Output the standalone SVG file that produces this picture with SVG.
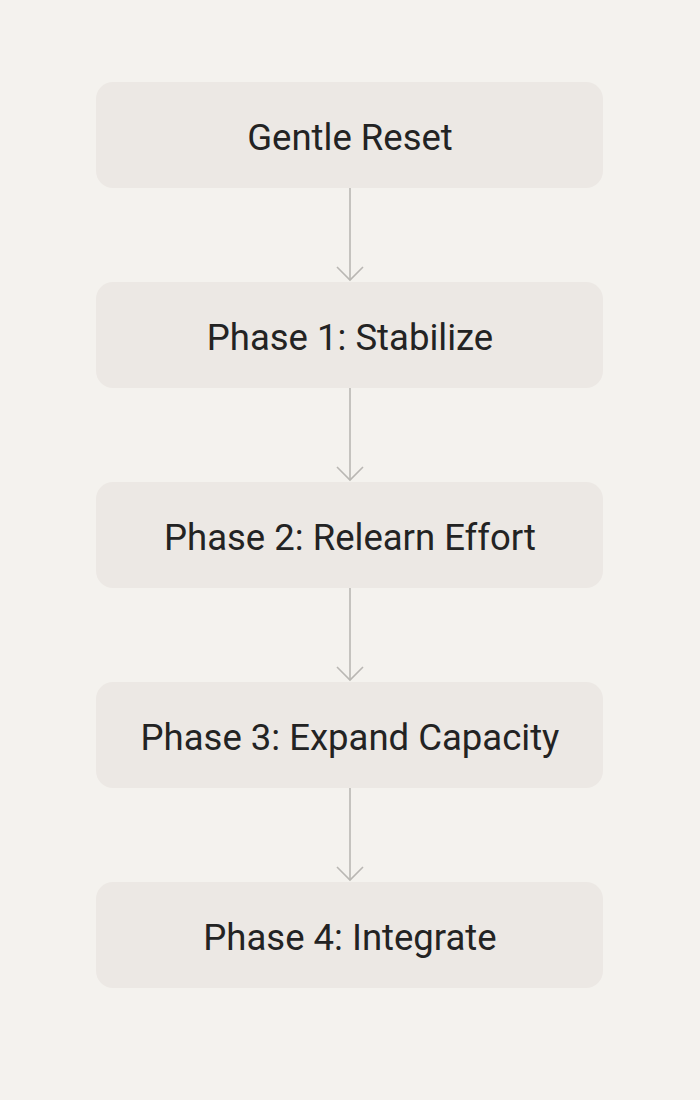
<svg xmlns="http://www.w3.org/2000/svg" width="700" height="1100" viewBox="0 0 700 1100">
  <style>
    .box { fill: #ece8e4; }
    .label { font-family: Roboto, "Liberation Sans", sans-serif; font-size: 36.5px; fill: #232323; text-anchor: middle; }
    .conn { stroke: #b9b7b3; stroke-width: 1.6; fill: none; }
  </style>
  <rect width="700" height="1100" fill="#f4f2ee"/>
  <g id="connectors">
    <line class="conn" x1="350" y1="188" x2="350" y2="280"/>
    <path class="conn" d="M337 267 L350 280 L363 267"/>
    <line class="conn" x1="350" y1="388" x2="350" y2="480"/>
    <path class="conn" d="M337 467 L350 480 L363 467"/>
    <line class="conn" x1="350" y1="588" x2="350" y2="680"/>
    <path class="conn" d="M337 667 L350 680 L363 667"/>
    <line class="conn" x1="350" y1="788" x2="350" y2="880"/>
    <path class="conn" d="M337 867 L350 880 L363 867"/>
  </g>
  <g id="node-gentle-reset">
    <rect class="box" x="96" y="82" width="507" height="106" rx="17"/>
    <text class="label" x="350" y="150">Gentle Reset</text>
  </g>
  <g id="node-phase1">
    <rect class="box" x="96" y="282" width="507" height="106" rx="17"/>
    <text class="label" x="350" y="350">Phase 1: Stabilize</text>
  </g>
  <g id="node-phase2">
    <rect class="box" x="96" y="482" width="507" height="106" rx="17"/>
    <text class="label" x="350" y="550">Phase 2: Relearn Effort</text>
  </g>
  <g id="node-phase3">
    <rect class="box" x="96" y="682" width="507" height="106" rx="17"/>
    <text class="label" x="350" y="750">Phase 3: Expand Capacity</text>
  </g>
  <g id="node-phase4">
    <rect class="box" x="96" y="882" width="507" height="106" rx="17"/>
    <text class="label" x="350" y="950">Phase 4: Integrate</text>
  </g>
</svg>
